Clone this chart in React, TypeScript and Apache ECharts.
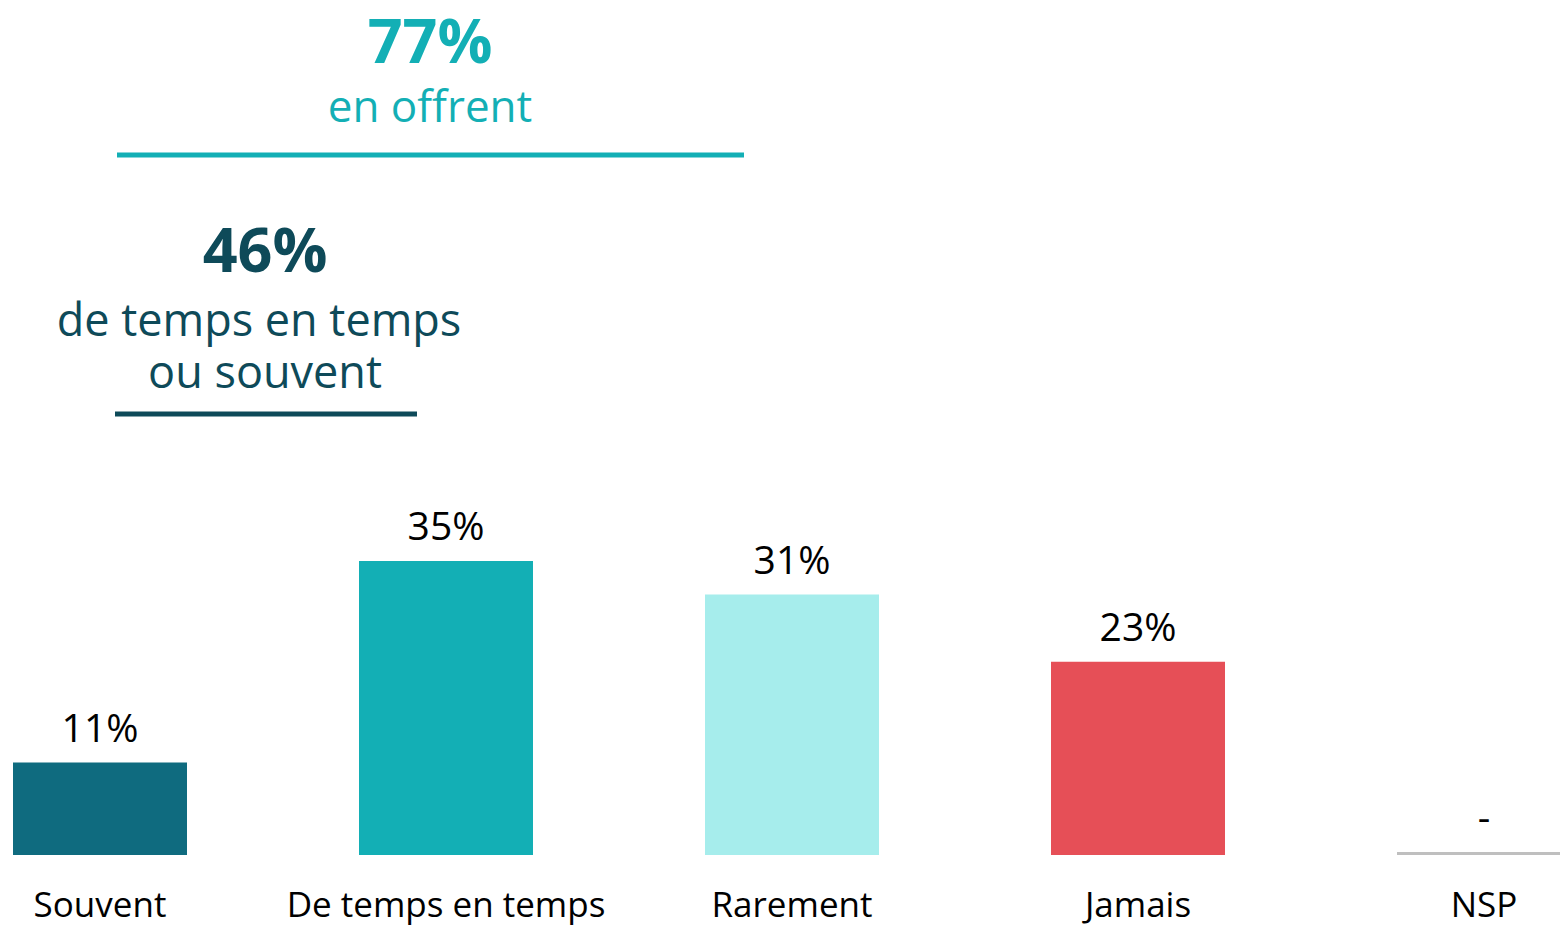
import React, { useEffect, useRef } from "react";
import * as echarts from "echarts";

const categories = ["Souvent", "De temps en temps", "Rarement", "Jamais", "NSP"];
const values = [11, 35, 31, 23, 0];
const barColors = ["#0F6B7F", "#13AFB5", "#A6EDEC", "#E64F57", "#BFBFBF"];
const topNumber = "77%";
const topLabel = "en offrent";
const midNumber = "46%";
const midLabel = ["de temps en temps", "ou souvent"];

const FONT = "'Open Sans', 'Noto Sans', sans-serif";
const TEAL = "#13AFB5";
const DARK = "#0E4A59";

export default function App() {
  const ref = useRef<HTMLDivElement>(null);
  useEffect(() => {
    document.body.style.margin = "0";
    if (!ref.current) return;
    const chart = echarts.init(ref.current, null, { renderer: "svg" });
    chart.setOption({
      animation: false,
      grid: { left: 100, right: 76, top: 15, bottom: 70, containLabel: false },
      xAxis: {
        type: "category",
        data: categories,
        boundaryGap: false,
        axisLine: { show: false },
        axisTick: { show: false },
        axisLabel: {
          color: "#000",
          fontFamily: FONT,
          fontSize: 35,
          margin: 31,
          interval: 0,
        },
      },
      yAxis: {
        type: "value",
        min: 0,
        max: 100,
        show: false,
        splitLine: { show: false },
      },
      series: [
        {
          type: "bar",
          clip: false,
          barWidth: 174,
          barMinHeight: 3,
          data: values.map((v, i) => ({ value: v, itemStyle: { color: barColors[i] } })),
          label: {
            show: true,
            position: "top",
            distance: 17,
            color: "#000",
            fontFamily: FONT,
            fontSize: 39,
            formatter: (p: any) => (p.value === 0 ? "-" : p.value + "%"),
          },
        },
      ],
      graphic: [
        {
          type: "text",
          x: 430,
          y: 39,
          style: {
            text: topNumber,
            fill: TEAL,
            font: `bold 61px ${FONT}`,
            lineHeight: 56,
            textAlign: "center",
            textVerticalAlign: "middle",
          },
        },
        {
          type: "text",
          x: 430,
          y: 105,
          style: {
            text: topLabel,
            fill: TEAL,
            font: `44px ${FONT}`,
            lineHeight: 48,
            textAlign: "center",
            textVerticalAlign: "middle",
          },
        },
        {
          type: "line",
          shape: { x1: 117, y1: 155, x2: 744, y2: 155 },
          style: { stroke: TEAL, lineWidth: 5 },
        },
        {
          type: "text",
          x: 265,
          y: 248,
          style: {
            text: midNumber,
            fill: DARK,
            font: `bold 61px ${FONT}`,
            lineHeight: 56,
            textAlign: "center",
            textVerticalAlign: "middle",
          },
        },
        {
          type: "text",
          x: 259,
          y: 318,
          style: {
            text: midLabel[0],
            fill: DARK,
            font: `45px ${FONT}`,
            lineHeight: 48,
            textAlign: "center",
            textVerticalAlign: "middle",
          },
        },
        {
          type: "text",
          x: 265,
          y: 370,
          style: {
            text: midLabel[1],
            fill: DARK,
            font: `45px ${FONT}`,
            lineHeight: 48,
            textAlign: "center",
            textVerticalAlign: "middle",
          },
        },
        {
          type: "line",
          shape: { x1: 115, y1: 414, x2: 417, y2: 414 },
          style: { stroke: DARK, lineWidth: 5 },
        },
      ],
    });
    return () => chart.dispose();
  }, []);
  return <div ref={ref} style={{ width: 1560, height: 925, background: "#fff" }} />;
}
